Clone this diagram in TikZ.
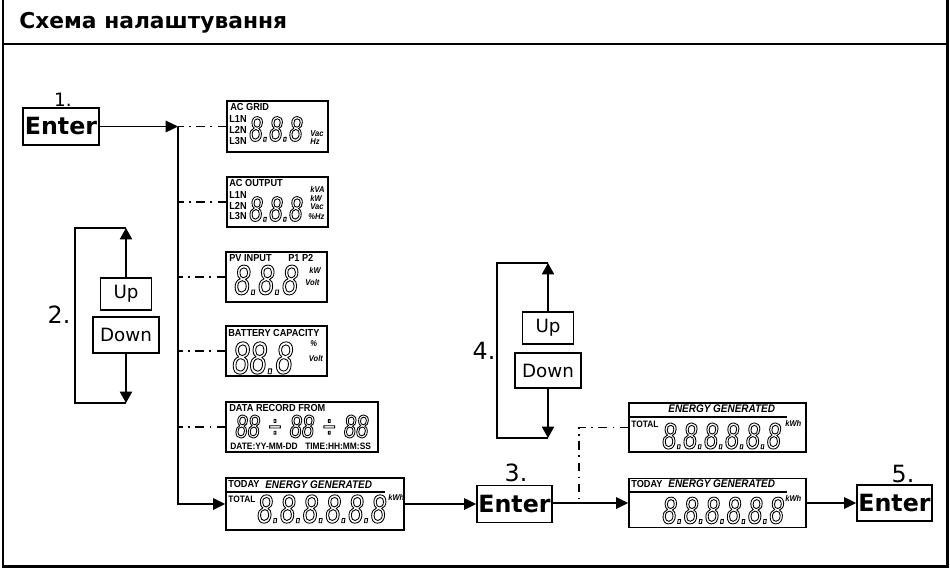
\documentclass[tikz,border=0pt]{standalone}
\usepackage{fontspec}
\setmainfont{DejaVu Sans}
\newfontfamily\lcdtag[FakeStretch=0.9]{Liberation Sans}
\newfontfamily\lcdseg[FakeStretch=0.68]{Liberation Sans}
\usetikzlibrary{arrows.meta}
\newcommand\hollow[1]{\special{pdf:literal direct 1 Tr 0.5 w}#1\special{pdf:literal direct 0 Tr}}
\tikzset{
  frame/.style  = {line width=1.7pt, line join=miter},
  headline/.style = {font=\bfseries\fontsize{12.4}{14}\selectfont, inner sep=0pt},
  keyb/.style   = {draw, line width=0.8pt, inner sep=0pt, minimum width=1.52cm,
                   minimum height=0.74cm, font=\bfseries\fontsize{13.5}{13.5}\selectfont},
  updn/.style   = {draw, line width=0.6pt, inner sep=0pt, minimum height=0.64cm,
                   font=\fontsize{10.4}{11}\selectfont},
  stepn/.style  = {inner sep=0pt, font=\fontsize{13.5}{14}\selectfont},
  lcd/.style    = {draw, line width=0.8pt, inner sep=0pt, minimum height=1cm},
  tag/.style    = {inner sep=0pt, font=\lcdtag\bfseries\fontsize{5.8}{6}\selectfont},
  tagsm/.style  = {inner sep=0pt, font=\lcdtag\bfseries\fontsize{5.3}{5.5}\selectfont},
  energy/.style = {inner sep=0pt, font=\lcdtag\bfseries\itshape\fontsize{6.3}{6.5}\selectfont},
  unit/.style   = {inner sep=0pt, font=\lcdtag\bfseries\itshape\fontsize{4.8}{5}\selectfont},
  seg/.style    = {inner sep=0pt, font=\lcdseg\itshape\fontsize{#1}{#1}\selectfont},
  rule/.style   = {line width=0.6pt},
  flow/.style   = {-{Triangle[length=7pt,width=6.5pt]}, line width=1.1pt},
  pick/.style   = {-{Triangle[length=6.5pt,width=7pt]}, line width=0.7pt},
  brace/.style  = {line width=0.65pt},
  link/.style   = {line width=0.6pt, dash pattern=on 5pt off 3pt on 1pt off 3pt},
}
\begin{document}
\begin{tikzpicture}[x=0.02cm, y=-0.02cm]
\useasboundingbox (0,0) rectangle (950,568);

% ---- frame + title ----
\draw[frame] (3,0) -- (3,566) -- (947,566) -- (947,0);
\draw[frame] (3,44) -- (947,44);
\node[headline, anchor=base west] (title) at (19,29) {Схема налаштування};

% ---- step 1 ----
\node[keyb] (enter1) at (61,126.5) {Enter};
\node[stepn, font=\fontsize{10.5}{11}\selectfont] (s1) at (63,100) {1.};
\coordinate (j1) at (178,126.5);
\draw[flow] (enter1.east) -- (j1);

% ---- displays on the trunk ----
\node[lcd, minimum width=2.02cm, minimum height=1.02cm] (grid) at (277.5,126.5) {};
\node[lcd, minimum width=2.02cm] (outp) at (277.5,202) {};
\node[lcd, minimum width=2.02cm] (pv)   at (276.5,277) {};
\node[lcd, minimum width=2.02cm] (batt) at (276.5,351) {};
\node[lcd, minimum width=3.04cm] (rec)  at (302,427) {};
\node[lcd, minimum width=3.56cm, minimum height=1.04cm] (today1) at (315,504) {};

\draw[flow] (j1) |- (today1.west);
\draw[link] (grid.west) -- (grid.west -| j1);
\draw[link] (outp.west) -- (outp.west -| j1);
\draw[link] (pv.west) -- (pv.west -| j1);
\draw[link] (batt.west) -- (batt.west -| j1);
\draw[link] (rec.west) -- (rec.west -| j1);

% AC grid
\node[tag, anchor=north west] (gridt) at (230,103) {AC GRID};
\node[tag, anchor=west] (gridl1) at (229,119) {L1N};
\node[tag, anchor=west] (gridl2) at (229,130) {L2N};
\node[tag, anchor=west] (gridl3) at (229,141) {L3N};
\node[seg=20, anchor=west] (gridd) at (249,129) {\hollow{8.8.8}};
\node[unit, anchor=west] (gridu1) at (310,134) {Vac};
\node[unit, anchor=west] (gridu2) at (310,142) {Hz};

% AC output
\node[tag, anchor=north west] (outpt) at (229,179) {AC OUTPUT};
\node[tag, anchor=west] (outpl1) at (229,195) {L1N};
\node[tag, anchor=west] (outpl2) at (229,205.5) {L2N};
\node[tag, anchor=west] (outpl3) at (229,216) {L3N};
\node[seg=20, anchor=west] (outpd) at (249,209) {\hollow{8.8.8}};
\node[unit, anchor=west] (outpu1) at (310,189) {kVA};
\node[unit, anchor=west] (outpu2) at (310,198) {kW};
\node[unit, anchor=west] (outpu3) at (310,207) {Vac};
\node[unit, anchor=west] (outpu4) at (308,216.5) {\%Hz};

% PV input
\node[tag, anchor=north west] (pvt) at (229,254) {PV INPUT};
\node[tag, anchor=west] (pvp) at (288,258) {P1 P2};
\node[seg=24, anchor=west] (pvd) at (234,280) {\hollow{8.8.8}};
\node[unit, anchor=west] (pvu1) at (309,270.5) {kW};
\node[unit, anchor=west] (pvu2) at (305,282) {Volt};

% battery
\node[tag, anchor=north west] (battt) at (228,329) {BATTERY CAPACITY};
\node[seg=26, anchor=west] (battd) at (232,358) {\hollow{88.8}};
\node[unit, anchor=west] (battu1) at (310,344) {\%};
\node[unit, anchor=west] (battu2) at (308.5,358) {Volt};

% data record
\node[tag, anchor=north west] (rect) at (229,404) {DATA RECORD FROM};
\node[seg=18.5, anchor=west] (recd) at (235,426.5)
      {\hollow{88\kern5pt÷\kern5pt88\kern5pt÷\kern5pt88}};
\node[tagsm, anchor=west] (recb) at (230,446.5) {DATE:YY-MM-DD\hspace{3pt} TIME:HH:MM:SS};

% today / total (left)
\node[tag, anchor=west] (today1a) at (228,484) {TODAY};
\node[energy, anchor=west] (today1e) at (265,485) {ENERGY GENERATED};
\draw[rule] (227,492) -- (385,492);
\node[tagsm, anchor=west] (today1b) at (228,499) {TOTAL};
\node[seg=22.8, anchor=west] (today1d) at (257,509) {\hollow{8.8.8.8.8.8}};
\node[unit, anchor=west] (today1u) at (388,497) {kWh};

% ---- step 2 ----
\node[updn, minimum width=1.02cm] (up2) at (126,294) {Up};
\node[updn, minimum width=1.32cm, minimum height=0.72cm] (down2) at (126,335) {Down};
\coordinate (t2) at (126,228);
\coordinate (b2) at (126,403);
\draw[pick] (up2.north) -- (t2);
\draw[pick] (down2.south) -- (b2);
\draw[brace] (t2) -- (75,228) -- (75,403) -- (b2);
\node[stepn] (s2) at (59,315) {2.};

% ---- step 3 ----
\node[keyb, minimum width=1.5cm] (enter3) at (514.5,504) {Enter};
\node[stepn] (s3) at (516,472.5) {3.};
\draw[flow] (today1.east) -- (enter3.west);

\node[lcd, minimum width=3.54cm, minimum height=0.98cm] (total2) at (717.5,427.5) {};
\node[lcd, minimum width=3.54cm, minimum height=0.98cm] (today2) at (717.5,503) {};
\coordinate (j3) at (579,503);
\draw[flow] (enter3.east |- today2) -- (today2.west);
\draw[link] (total2.west) -| (j3);

% total (right)
\node[energy, anchor=west] (total2e) at (668,409) {ENERGY GENERATED};
\draw[rule] (629,417) -- (787,417);
\node[tagsm, anchor=west] (total2b) at (631,424) {TOTAL};
\node[seg=21, anchor=west] (total2d) at (662,436) {\hollow{8.8.8.8.8.8}};
\node[unit, anchor=west] (total2u) at (785,423) {kWh};

% today (right)
\node[tag, anchor=west] (today2a) at (631,484) {TODAY};
\node[energy, anchor=west] (today2e) at (668,484) {ENERGY GENERATED};
\draw[rule] (629,492) -- (787,492);
\node[seg=21.5, anchor=west] (today2d) at (662,510.5) {\hollow{8.8.8.8.8.8}};
\node[unit, anchor=west] (today2u) at (785,498) {kWh};

% ---- step 4 ----
\node[updn, minimum width=1.02cm] (up4) at (548,328) {Up};
\node[updn, minimum width=1.32cm, minimum height=0.7cm] (down4) at (548,370.5) {Down};
\coordinate (t4) at (548,263);
\coordinate (b4) at (548,438);
\draw[pick] (up4.north) -- (t4);
\draw[pick] (down4.south) -- (b4);
\draw[brace] (t4) -- (497,263) -- (497,438) -- (b4);
\node[stepn] (s4) at (484,351) {4.};

% ---- step 5 ----
\node[keyb, minimum width=1.5cm, minimum height=0.72cm] (enter5) at (894.5,503) {Enter};
\node[stepn] (s5) at (903,474) {5.};
\draw[flow] (today2.east) -- (enter5.west);

\end{tikzpicture}
\end{document}
